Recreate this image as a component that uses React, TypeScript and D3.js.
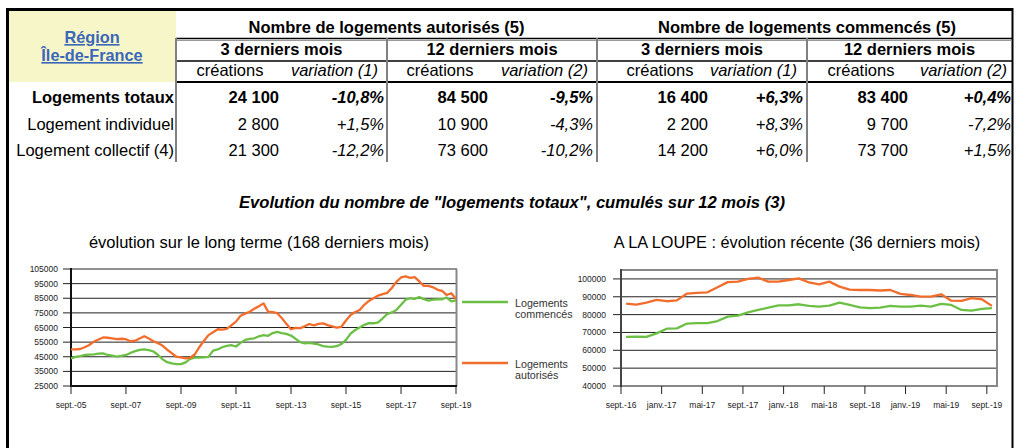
import React from "react";
import * as d3 from "d3";

// ---- table data ----
const rowLabels = ["Logements totaux", "Logement individuel", "Logement collectif (4)"];
const groupTitles = ["Nombre de logements autorisés (5)", "Nombre de logements commencés (5)"];
const periodTitles = ["3 derniers mois", "12 derniers mois", "3 derniers mois", "12 derniers mois"];
const variationTitles = ["variation (1)", "variation (2)", "variation (1)", "variation (2)"];

const autorises3Creations = [24100, 2800, 21300];
const autorises3Variation = [-10.8, 1.5, -12.2];
const autorises12Creations = [84500, 10900, 73600];
const autorises12Variation = [-9.5, -4.3, -10.2];
const commences3Creations = [16400, 2200, 14200];
const commences3Variation = [6.3, 8.3, 6.0];
const commences12Creations = [83400, 9700, 73700];
const commences12Variation = [0.4, -7.2, 1.5];

// ---- long term chart (one value every 2 months, sept. 2005 -> sept. 2019) ----
const longAutorises = [
  50100, 50000, 50300, 51500, 53000, 55300, 56800, 58200, 58000, 57600,
  57000, 57300, 57000, 55600, 56000, 57500, 59000, 57500, 55500, 54300,
  52500, 49800, 47500, 45000, 44600, 43900, 44300, 46500, 51500, 55800,
  59800, 61800, 63800, 63600, 64000, 66500, 69000, 73000, 74500, 75800,
  77800, 79500, 81500, 75800, 75500, 74800, 71500, 67500, 63800, 64800,
  64600, 65800, 67400, 66500, 67500, 67800, 66600, 65700, 64900, 65500,
  69800, 73500, 75600, 77000, 80500, 83200, 85000, 86800, 87800, 88700,
  92000, 96200, 99200, 100000, 98900, 99500, 96500, 93400, 93400, 92500,
  90800, 90000, 87200, 88400, 84500,
];
const longCommences = [
  43900, 44900, 45400, 46200, 46500, 46600, 47200, 47300, 46200, 45700,
  45100, 45600, 46200, 47600, 48800, 49700, 50000, 49500, 48600, 46200,
  43200, 41300, 40400, 40000, 40000, 41200, 43600, 44400, 44500, 44600,
  44900, 49200, 50000, 51500, 52500, 53000, 52000, 54500, 56500, 57200,
  57600, 59000, 59800, 59300, 61200, 62000, 61200, 60600, 59500, 57200,
  55000, 54200, 54500, 54000, 53400, 52300, 51900, 51800, 52200, 53700,
  56500, 60800, 63300, 65000, 66800, 68000, 67900, 68500, 71300, 74200,
  75300, 77000, 80500, 84000, 85000, 84600, 85800, 84400, 83400, 84000,
  84300, 84300, 85500, 82800, 83500,
];
const longTickLabels = ["sept.-05", "sept.-07", "sept.-09", "sept.-11", "sept.-13", "sept.-15", "sept.-17", "sept.-19"];
const longYTicks = [25000, 35000, 45000, 55000, 65000, 75000, 85000, 95000, 105000];

// ---- recent chart (36 last months) ----
const shortMonths = [
  "sept.-16", "oct.-16", "nov.-16", "déc.-16",
  "janv.-17", "févr.-17", "mars-17", "avr.-17", "mai-17", "juin-17", "juil.-17", "août-17", "sept.-17", "oct.-17", "nov.-17", "déc.-17",
  "janv.-18", "févr.-18", "mars-18", "avr.-18", "mai-18", "juin-18", "juil.-18", "août-18", "sept.-18", "oct.-18", "nov.-18", "déc.-18",
  "janv.-19", "févr.-19", "mars-19", "avr.-19", "mai-19", "juin-19", "juil.-19", "août-19", "sept.-19",
];
const shortAutorises = [
  86200, 85600, 86700, 88200, 87500, 88000, 91800, 92200, 92500, 95300,
  98200, 98500, 100000, 100700, 98500, 98500, 99400, 100300, 98000, 97000,
  98500, 95700, 94000, 93800, 93800, 93500, 93800, 91600, 91000, 90100,
  90100, 91400, 87800, 87700, 89200, 88600, 84900,
];
const shortCommences = [
  67500, 67700, 67500, 69500, 72100, 72300, 75000, 75200, 75200, 76400,
  78900, 79400, 81300, 82600, 83900, 85200, 85200, 85800, 84900, 84500,
  85000, 86700, 85400, 84100, 83600, 83900, 84900, 84500, 84500, 85000,
  84500, 86000, 85400, 82600, 82200, 83200, 83600,
];
const shortTickLabels = ["sept.-16", "janv.-17", "mai-17", "sept.-17", "janv.-18", "mai-18", "sept.-18", "janv.-19", "mai-19", "sept.-19"];
const shortYTicks = [40000, 50000, 60000, 70000, 80000, 90000, 100000];

const ORANGE = "#f26d2b";
const GREEN = "#6cbf45";
const FONT = "'Liberation Sans', Arial, Helvetica, sans-serif";

const fr = d3.formatLocale({ decimal: ",", thousands: " ", grouping: [3], currency: ["", " €"], minus: "-" } as any);
const fmtN = fr.format(",");
const fmtV = (v: number) => fr.format("+.1f")(v) + "%";

const App = () => {
  // table layout
  const colEdges = [176, 387, 597, 807, 1012];
  const numRight = [279, 488, 708, 908];
  const creaCenter = [230, 440, 660, 861];
  const varRight = [384, 593, 803, 1011];
  const varHeadRight = [378, 588, 797, 1007];
  const rowY = [103, 130, 156];
  const cols = [
    { c: autorises3Creations, v: autorises3Variation },
    { c: autorises12Creations, v: autorises12Variation },
    { c: commences3Creations, v: commences3Variation },
    { c: commences12Creations, v: commences12Variation },
  ];

  // long chart
  const start = new Date(2005, 8, 1);
  const longX = d3.scaleTime().domain([start, new Date(2019, 8, 1)]).range([71, 456]);
  const longY = d3.scaleLinear().domain([25000, 105000]).range([386, 269]);
  const longDates = longAutorises.map((_, i) => d3.timeMonth.offset(start, i * 2));
  const longLine = d3
    .line<number>()
    .x((_, i) => longX(longDates[i]))
    .y((d) => longY(d));
  const longTickDates = longTickLabels.map((_, i) => d3.timeMonth.offset(start, i * 24));

  // short chart
  const shortX = d3.scaleBand<string>().domain(shortMonths).range([621, 997]);
  const bw = shortX.bandwidth();
  const shortY = d3.scaleLinear().domain([40000, 105000]).range([386, 270]);
  const shortLine = d3
    .line<number>()
    .x((_, i) => (shortX(shortMonths[i]) as number) + bw / 2)
    .y((d) => shortY(d));

  return (
    <svg width={1016} height={448} style={{ position: "absolute", left: 0, top: 0, background: "#fff" }} fontFamily={FONT}>
      {/* frame */}
      <line x1={7.5} x2={7.5} y1={8} y2={448} stroke="#000" strokeWidth={3} />
      <line x1={6} x2={1013} y1={9.5} y2={9.5} stroke="#000" strokeWidth={3} />
      <line x1={1012.5} x2={1012.5} y1={8} y2={448} stroke="#000" strokeWidth={2} />

      {/* header block */}
      <rect x={9} y={11} width={167} height={71} fill="#f6f6c9" />
      <text x={92} y={43} textAnchor="middle" fontSize={16.3} fontWeight="bold" fill="#3b67b9" textDecoration="underline">Région</text>
      <text x={92} y={61} textAnchor="middle" fontSize={16.3} fontWeight="bold" fill="#3b67b9" textDecoration="underline">Île-de-France</text>

      {groupTitles.map((t, i) => (
        <text key={t} x={i === 0 ? 386.5 : 807} y={33} textAnchor="middle" fontSize={16.5} fontWeight="bold">{t}</text>
      ))}
      {periodTitles.map((t, i) => (
        <text key={i} x={(colEdges[i] + colEdges[i + 1]) / 2} y={55} textAnchor="middle" fontSize={16.5} fontWeight="bold">{t}</text>
      ))}
      {variationTitles.map((t, i) => (
        <g key={i}>
          <text x={creaCenter[i]} y={76} textAnchor="middle" fontSize={16.5}>créations</text>
          <text x={varHeadRight[i]} y={76} textAnchor="end" fontSize={16.5} fontStyle="italic">{t}</text>
        </g>
      ))}

      {/* table rules */}
      <line x1={176} x2={1012} y1={38.5} y2={38.5} stroke="#000" strokeWidth={1.5} />
      <line x1={176} x2={1012} y1={40.5} y2={40.5} stroke="#999" strokeWidth={1} />
      <line x1={176} x2={1012} y1={61} y2={61} stroke="#000" strokeWidth={1.5} />
      <line x1={176} x2={1012} y1={82} y2={82} stroke="#000" strokeWidth={2} />
      {colEdges.slice(0, 4).map((x) => (
        <line key={x} x1={x} x2={x} y1={38} y2={162} stroke="#808080" strokeWidth={2} />
      ))}

      {rowLabels.map((l, r) => (
        <g key={l} fontSize={16.5} fontWeight={r === 0 ? "bold" : "normal"}>
          <text x={174} y={rowY[r]} textAnchor="end">{l}</text>
          {cols.map((col, i) => (
            <g key={i}>
              <text x={numRight[i]} y={rowY[r]} textAnchor="end">{fmtN(col.c[r])}</text>
              <text x={varRight[i]} y={rowY[r]} textAnchor="end" fontStyle="italic">{fmtV(col.v[r])}</text>
            </g>
          ))}
        </g>
      ))}

      {/* titles */}
      <text x={512} y={208} textAnchor="middle" fontSize={16.6} fontWeight="bold" fontStyle="italic">
        Evolution du nombre de "logements totaux", cumulés sur 12 mois (3)
      </text>
      <text x={259} y={248} textAnchor="middle" fontSize={16.5}>évolution sur le long terme (168 derniers mois)</text>
      <text x={797} y={248} textAnchor="middle" fontSize={16.3}>A LA LOUPE : évolution récente (36 derniers mois)</text>

      {/* long chart */}
      <g>
        {longYTicks.map((t) => (
          <g key={t}>
            <line x1={71} x2={457} y1={longY(t)} y2={longY(t)} stroke="#222" strokeWidth={1} />
            <line x1={63} x2={71} y1={longY(t)} y2={longY(t)} stroke="#222" strokeWidth={1} />
            <text x={58} y={longY(t) + 3} textAnchor="end" fontSize={8.5} fill="#222">{t}</text>
          </g>
        ))}
        <line x1={456.5} x2={456.5} y1={269} y2={386} stroke="#888" strokeWidth={2} />
        <line x1={71} x2={71} y1={268} y2={387} stroke="#111" strokeWidth={2} />
        <line x1={70} x2={457} y1={386} y2={386} stroke="#111" strokeWidth={2} />
        {longTickDates.map((d, i) => (
          <g key={i}>
            <line x1={longX(d)} x2={longX(d)} y1={386} y2={394} stroke="#222" strokeWidth={1} />
            <text x={longX(d)} y={408} textAnchor="middle" fontSize={8.5} fill="#222">{longTickLabels[i]}</text>
          </g>
        ))}
        <path d={longLine(longCommences) || ""} fill="none" stroke={GREEN} strokeWidth={2.3} strokeLinejoin="round" />
        <path d={longLine(longAutorises) || ""} fill="none" stroke={ORANGE} strokeWidth={2.3} strokeLinejoin="round" />
      </g>

      {/* legend */}
      <g fontSize={10.7} fill="#333">
        <line x1={462} x2={508} y1={302} y2={302} stroke={GREEN} strokeWidth={2.3} />
        <text x={515} y={306.5}>Logements</text>
        <text x={515} y={317.5}>commencés</text>
        <line x1={462} x2={508} y1={363} y2={363} stroke={ORANGE} strokeWidth={2.3} />
        <text x={515} y={367.5}>Logements</text>
        <text x={515} y={378.5}>autorisés</text>
      </g>

      {/* short chart */}
      <g>
        {shortYTicks.map((t) => (
          <g key={t}>
            <line x1={621} x2={997} y1={shortY(t)} y2={shortY(t)} stroke="#222" strokeWidth={1} />
            <line x1={613} x2={621} y1={shortY(t)} y2={shortY(t)} stroke="#222" strokeWidth={1} />
            <text x={606} y={shortY(t) + 3} textAnchor="end" fontSize={8.5} fill="#222">{t}</text>
          </g>
        ))}
        <line x1={621} x2={998} y1={270} y2={270} stroke="#888" strokeWidth={2} />
        <line x1={997} x2={997} y1={269} y2={387} stroke="#888" strokeWidth={2} />
        <line x1={620} x2={998} y1={386} y2={386} stroke="#888" strokeWidth={2} />
        <line x1={621} x2={621} y1={269} y2={387} stroke="#444" strokeWidth={2} />
        {shortTickLabels.map((m) => {
          const x = shortX(m) as number;
          return (
            <g key={m}>
              <line x1={x} x2={x} y1={386} y2={394} stroke="#222" strokeWidth={1} />
              <text x={x} y={408} textAnchor="middle" fontSize={8.5} fill="#222">{m}</text>
            </g>
          );
        })}
        <path d={shortLine(shortCommences) || ""} fill="none" stroke={GREEN} strokeWidth={2.3} strokeLinejoin="round" />
        <path d={shortLine(shortAutorises) || ""} fill="none" stroke={ORANGE} strokeWidth={2.3} strokeLinejoin="round" />
      </g>
    </svg>
  );
};

export default App;
